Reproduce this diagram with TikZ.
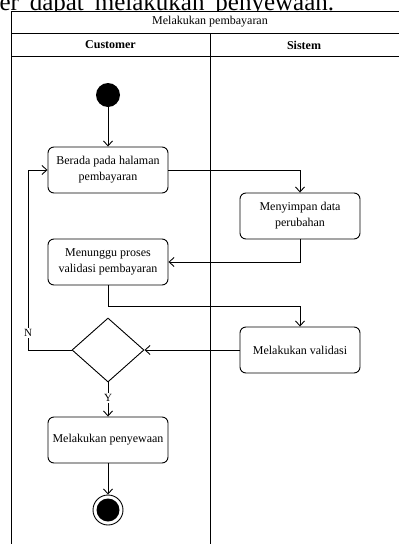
\documentclass[tikz,border=0pt]{standalone}
\usepackage{fontspec}
\setmainfont{Liberation Serif}
\usetikzlibrary{arrows.meta,shapes.geometric}
\begin{document}
\begin{tikzpicture}[x=1pt,y=-1pt,
  act/.style={draw, line width=0.9pt, rounded corners=6pt, minimum width=120pt,
    minimum height=46pt, inner sep=2pt, align=center,
    font=\fontsize{12}{16}\selectfont},
  flow/.style={draw, line width=0.9pt, -{Straight Barb[length=5pt,width=9pt,line width=0.9pt]}},
  lane/.style={line width=1pt},
  head/.style={font=\fontsize{12}{14}\selectfont\bfseries},
  lbl/.style={fill=white, inner sep=1pt, font=\fontsize{11}{12}\selectfont}
]
\useasboundingbox (0,0) rectangle (399,544);
\clip (0,0) rectangle (399,544);

% justified line of body text running above the figure
\node[anchor=base west, inner sep=0, font=\fontsize{25}{30}\selectfont] (pagetext) at (-0.7,10)
  {\spaceskip=10.9pt er dapat melakukan penyewaan.};

% the figure sits on a white ground that covers the descenders
\fill[white] (11,11) rectangle (420,560);

% swimlane frame
\draw[lane] (11,560) -- (11,11.5) -- (410,11.5);
\draw[lane] (11,33) -- (410,33);
\draw[lane] (11,56) -- (410,56);
\draw[lane] (210,33) -- (210,560);
\node[font=\fontsize{12}{14}\selectfont] (title) at (210,22) {Melakukan pembayaran};
\node[head] (customer) at (110.5,45) {Customer};
\node[head] (sistem) at (304,45) {Sistem};

% activities
\node[circle, fill, minimum size=24pt, inner sep=0] (start) at (108,95) {};
\node[act] (b1) at (108,170) {Berada pada halaman\\pembayaran};
\node[act] (b2) at (300,216) {Menyimpan data\\perubahan};
\node[act] (b3) at (108,262) {Menunggu proses\\validasi pembayaran};
\node[act] (b4) at (300,350) {Melakukan validasi};
\node[diamond, draw, line width=0.9pt, minimum width=72pt, minimum height=64pt, inner sep=0] (dec) at (108,350) {};
\node[act] (b5) at (108,440) {Melakukan penyewaan};
\node[circle, draw, line width=0.9pt, minimum size=30pt, inner sep=0] (stop) at (108,510) {};
\node[circle, fill, minimum size=23pt, inner sep=0] (stopdot) at (stop.center) {};

% control flow
\coordinate (loop) at (28,350);
\draw[flow] (start) -- (b1);
\draw[flow] (b1.east) -| (b2.north);
\draw[flow] (b2.south) |- (b3.east);
\draw[flow] (b3.south) -- ++(0,21) -| (b4.north);
\draw[flow] (b4.west) -- (dec.east);
\draw[flow] (dec.west) -- (loop) |- (b1.west);
\draw[flow] (dec.south) -- (b5.north);
\draw[flow] (b5.south) -- (stop.north);

% guards
\node[lbl] (nlbl) at (28,333) {N};
\node[lbl] (ylbl) at (108,398) {Y};
\end{tikzpicture}
\end{document}
